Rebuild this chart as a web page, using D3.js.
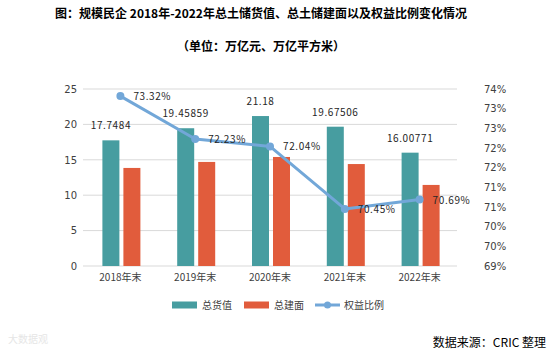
<!DOCTYPE html>
<html>
<head>
<meta charset="utf-8">
<script src="https://cdn.jsdelivr.net/npm/d3@7"></script>
<style>
  body { margin: 0; background: #fff; }
  svg text { font-family: "Noto Sans CJK SC", "DejaVu Sans", sans-serif; }
</style>
</head>
<body>
<div class="container"></div>
<script>
// chart data
const years = ["2018年末", "2019年末", "2020年末", "2021年末", "2022年末"];
const totalValue = [17.7484, 19.45859, 21.18, 19.67506, 16.00771];
const totalArea = [13.85, 14.7, 15.4, 14.4, 11.45];
const equityRatio = [73.32, 72.23, 72.04, 70.45, 70.69];
const valueLabels = ["17.7484", "19.45859", "21.18", "19.67506", "16.00771"];
const leftTicks = [0, 5, 10, 15, 20, 25];
const rightTicks = [69, 69.5, 70, 70.5, 71, 71.5, 72, 72.5, 73, 73.5];
const seriesNames = ["总货值", "总建面", "权益比例"];

const W = 549, H = 353;
const teal = "#479da0", orange = "#e15c3c", blue = "#72a7d8";

const svg = d3.select("div.container").append("svg")
    .attr("width", W)
    .attr("height", H);

// titles
svg.append("text")
    .attr("x", 261).attr("y", 18)
    .attr("text-anchor", "middle")
    .style("font-size", "12px").style("font-weight", "bold")
    .text("图：规模民企 2018年-2022年总土储货值、总土储建面以及权益比例变化情况");
svg.append("text")
    .attr("x", 261).attr("y", 51)
    .attr("text-anchor", "middle")
    .style("font-size", "12px").style("font-weight", "bold")
    .text("（单位：万亿元、万亿平方米）");

const plot = {left: 83, right: 457, top: 89, bottom: 266};

const x = d3.scaleBand().domain(years).range([plot.left, plot.right]);
const yL = d3.scaleLinear().domain([0, 25]).range([plot.bottom, plot.top]);
const yR = d3.scaleLinear().domain([69, 73.5]).range([plot.bottom, plot.top]);

// gridlines
svg.append("g").selectAll("line")
    .data(leftTicks)
    .enter().append("line")
    .attr("x1", plot.left).attr("x2", plot.right)
    .attr("y1", d => yL(d)).attr("y2", d => yL(d))
    .attr("stroke", "#d9d9d9").attr("stroke-width", 1);

// left axis
const leftAxis = svg.append("g")
    .attr("transform", `translate(${plot.left - 6},0)`)
    .call(d3.axisLeft(yL).tickValues(leftTicks).tickSize(0).tickPadding(0));
leftAxis.select(".domain").remove();
leftAxis.selectAll("text").style("font-size", "10px").attr("fill", "#404040")
    .style("font-family", "DejaVu Sans, sans-serif");

// right axis
const rightAxis = svg.append("g")
    .attr("transform", `translate(${plot.right + 27},0)`)
    .call(d3.axisRight(yR).tickValues(rightTicks).tickSize(0).tickPadding(0)
        .tickFormat(d => Math.round(d + 1e-9) + "%"));
rightAxis.select(".domain").remove();
rightAxis.selectAll("text").style("font-size", "10px").attr("fill", "#404040")
    .style("font-family", "DejaVu Sans, sans-serif");

// x axis labels
svg.append("g").selectAll("text")
    .data(years)
    .enter().append("text")
    .attr("x", d => x(d) + x.bandwidth() / 2)
    .attr("y", 281)
    .attr("text-anchor", "middle")
    .style("font-size", "10px").attr("fill", "#404040")
    .text(d => d);

// bars
const barW = 17, gap = 4;
svg.append("g").selectAll("rect")
    .data(totalValue)
    .enter().append("rect")
    .attr("x", (d, i) => x(years[i]) + x.bandwidth() / 2 - barW - gap / 2 + 1)
    .attr("y", d => yL(d))
    .attr("width", barW)
    .attr("height", d => yL(0) - yL(d))
    .attr("fill", teal);

svg.append("g").selectAll("rect")
    .data(totalArea)
    .enter().append("rect")
    .attr("x", (d, i) => x(years[i]) + x.bandwidth() / 2 + gap / 2 + 1)
    .attr("y", d => yL(d))
    .attr("width", barW)
    .attr("height", d => yL(0) - yL(d))
    .attr("fill", orange);

// bar value labels
svg.append("g").selectAll("text")
    .data(totalValue)
    .enter().append("text")
    .attr("x", (d, i) => x(years[i]) + x.bandwidth() / 2 - barW / 2 - gap / 2 + 1)
    .attr("y", d => yL(d) - 11)
    .attr("text-anchor", "middle")
    .style("font-size", "10px").style("letter-spacing", "0.6px")
    .attr("fill", "#262626")
    .text((d, i) => valueLabels[i]);

// ratio line
const cx = i => x(years[i]) + x.bandwidth() / 2;
const line = d3.line().x((d, i) => cx(i)).y(d => yR(d));
svg.append("path")
    .datum(equityRatio)
    .attr("d", line)
    .attr("fill", "none")
    .attr("stroke", blue)
    .attr("stroke-width", 3)
    .attr("stroke-linejoin", "round");

svg.append("g").selectAll("circle")
    .data(equityRatio)
    .enter().append("circle")
    .attr("cx", (d, i) => cx(i))
    .attr("cy", d => yR(d))
    .attr("r", 4)
    .attr("fill", blue);

svg.append("g").selectAll("text")
    .data(equityRatio)
    .enter().append("text")
    .attr("x", (d, i) => cx(i) + 13)
    .attr("y", d => yR(d) + 4)
    .style("font-size", "10px").style("letter-spacing", "0.6px")
    .attr("fill", "#262626")
    .text(d => d.toFixed(2) + "%");

// legend
const legend = svg.append("g").attr("transform", "translate(0,305)");
legend.append("rect").attr("x", 172).attr("y", -3.5).attr("width", 25).attr("height", 7).attr("fill", teal);
legend.append("text").attr("x", 202).attr("y", 4).style("font-size", "10px").attr("fill", "#404040").text(seriesNames[0]);
legend.append("rect").attr("x", 244).attr("y", -3.5).attr("width", 25).attr("height", 7).attr("fill", orange);
legend.append("text").attr("x", 274).attr("y", 4).style("font-size", "10px").attr("fill", "#404040").text(seriesNames[1]);
legend.append("line").attr("x1", 315).attr("x2", 340).attr("y1", 0).attr("y2", 0).attr("stroke", blue).attr("stroke-width", 3);
legend.append("circle").attr("cx", 327.5).attr("cy", 0).attr("r", 3.5).attr("fill", blue);
legend.append("text").attr("x", 344).attr("y", 4).style("font-size", "10px").attr("fill", "#404040").text(seriesNames[2]);

// watermark + source
svg.append("text")
    .attr("x", 8).attr("y", 343)
    .style("font-size", "10px").attr("fill", "#e6e6e6")
    .text("大数据观");
svg.append("text")
    .attr("x", 546).attr("y", 347)
    .attr("text-anchor", "end")
    .style("font-size", "12px").attr("fill", "#000")
    .text("数据来源：CRIC 整理");
</script>
</body>
</html>
